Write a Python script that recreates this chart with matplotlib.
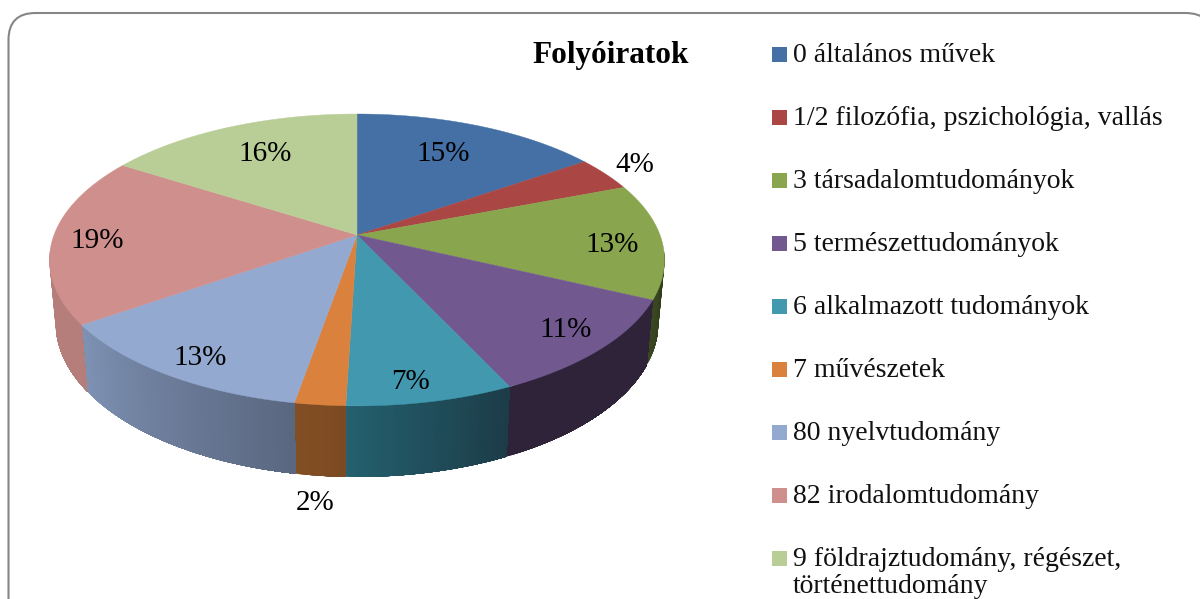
import numpy as np
import matplotlib
matplotlib.use('Agg')
import matplotlib.pyplot as plt
from matplotlib.patches import Polygon, Rectangle, FancyBboxPatch
from matplotlib.colors import to_rgb

# data
categories = ['0 általános művek', '1/2 filozófia, pszichológia, vallás', '3 társadalomtudományok',
              '5 természettudományok', '6 alkalmazott tudományok', '7 művészetek',
              '80 nyelvtudomány', '82 irodalomtudomány',
              '9 földrajztudomány, régészet,\ntörténettudomány']
values = [15.4, 3.8, 12.8, 11.0, 7.49, 2.26, 12.55, 18.7, 16.0]
title = 'Folyóiratok'

# colours of the top face and of the side wall (left and right end of the gradient)
top_colors = ['#4570A6', '#AA4644', '#89A54E', '#71588F', '#4198AF', '#D9813D', '#93A9CF', '#CF8F8D', '#B9CD96']
side_left = ['#34557D', '#803533', '#3A4722', '#2E2339', '#24606E', '#824E24', '#7E92B4', '#B57E7B', '#8C9B72']
side_right = ['#34557D', '#803533', '#323D1C', '#2E2339', '#1C3C48', '#7C4A22', '#5A6780', '#B57E7B', '#8C9B72']

# where each percent label sits: fraction of the radius, and degrees off the slice middle
label_radius = [0.73, 1.156, 0.836, 0.853, 0.88, 1.42, 0.867, 0.855, 0.74]
label_shift = [-2.1, -1.7, 1.2, -1.5, 1.9, -1.6, -1.0, -0.1, 1.7]

# perspective of the disc, in pixels
cx, cy = 357, 235
R = 303
persp = 0.171
squash = -101.5
depth = 65
depth_slope = 0.057
shrink = 0.98


def project(u, v):
    den = 1 + persp * v
    return cx + R * u / den, (squash * v + cy) / den


def rim(theta, r=1.0):
    return project(r * np.sin(theta), r * np.cos(theta))


plt.rcParams['font.family'] = ['Liberation Serif', 'DejaVu Serif']
fig = plt.figure(figsize=(12, 5.99), dpi=100)
ax = fig.add_axes([0, 0, 1, 1])
ax.set_xlim(0, 1200)
ax.set_ylim(599, 0)
ax.axis('off')

# rounded frame, runs off the bottom and right of the picture
ax.add_patch(FancyBboxPatch((8.5, 13), 1204, 640, boxstyle='round,pad=0,rounding_size=27',
                            facecolor='white', edgecolor='#868686', linewidth=1.5))

edges = 2 * np.pi * np.cumsum([0] + values) / sum(values)

# side wall first, the top face covers the rest
for i in range(len(values)):
    th = np.linspace(edges[i], edges[i + 1], max(int(values[i] * 8), 4))
    keep = np.cos(th) < -0.1
    if keep.sum() < 2:
        continue
    th = th[keep]
    xs, ys = rim(th)
    x_low = cx + (xs - cx) * shrink
    y_low = ys + depth + (ys - 300) * depth_slope
    left = np.array(to_rgb(side_left[i]))
    right = np.array(to_rgb(side_right[i]))
    # walk from the left end, each strip overlaps the next so no seams show
    order = np.argsort(xs)
    xs, ys, x_low, y_low = xs[order], ys[order], x_low[order], y_low[order]
    for j in range(len(th) - 1):
        k = len(th) - 1
        c = left + (right - left) * j / max(k - 1, 1)
        ax.add_patch(Polygon([(xs[j], ys[j])] + list(zip(xs[j + 1:], ys[j + 1:]))
                             + list(zip(x_low[j + 1:][::-1], y_low[j + 1:][::-1])) + [(x_low[j], y_low[j])],
                             closed=True, facecolor=c, edgecolor='none'))

# top face
for i in range(len(values)):
    th = np.linspace(edges[i], edges[i + 1], 80)
    xs, ys = rim(th)
    pts = [(cx, cy)] + list(zip(xs, ys))
    ax.add_patch(Polygon(pts, closed=True, facecolor=top_colors[i], edgecolor=top_colors[i], linewidth=0.3))

# percent labels
for i in range(len(values)):
    mid = (edges[i] + edges[i + 1]) / 2 + np.radians(label_shift[i])
    lx, ly = rim(mid, label_radius[i])
    ax.text(lx, ly + 3, '%d%%' % round(values[i]), ha='center', va='center', fontsize=21, color='black')

ax.text(611, 55, title, ha='center', va='center', fontsize=22.5, fontweight='bold', color='black')

# legend
leg_y = 54
for i, name in enumerate(categories):
    ax.add_patch(Rectangle((772, leg_y - 7), 15, 15, facecolor=top_colors[i], edgecolor='none'))
    ax.text(793, leg_y - 11, name, ha='left', va='top', fontsize=20, color='#111111', linespacing=1.12)
    leg_y += 63

fig.savefig('out.png', dpi=100)
